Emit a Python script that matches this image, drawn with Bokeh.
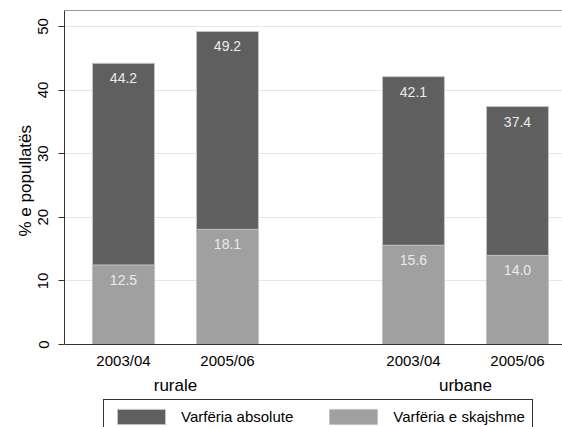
from bokeh.plotting import figure
from bokeh.models import (Range1d, FixedTicker, Legend, LegendItem,
                          Span, ColumnDataSource, Title)
from bokeh.embed import file_html
from bokeh.resources import INLINE
from bokeh.core.properties import value

# ---- data ----
groups = ["rurale", "urbane"]
periods = ["2003/04", "2005/06"]
absolute = [44.2, 49.2, 42.1, 37.4]   # Varfëria absolute
extreme = [12.5, 18.1, 15.6, 14.0]    # Varfëria e skajshme
y_ticks = [0, 10, 20, 30, 40, 50]
legend_labels = ["Varfëria absolute", "Varfëria e skajshme"]
y_title = "% e popullatës"

# ---- layout parameters ----
GROUP_STEP = 2.788
BAR_W = 0.596
FONT = "Liberation Sans"
DARK = "#5f5f5f"
LIGHT = "#a0a0a0"
AXIS = "#333333"
Y_MAX = 52.5
PLOT_H = 334          # px of the bar area
BELOW_H = 83          # px below the bar area (labels + legend)
Y_MIN = -Y_MAX * BELOW_H / PLOT_H

xs = [g * GROUP_STEP + k for g in range(len(groups)) for k in range(len(periods))]
group_centers = [g * GROUP_STEP + (len(periods) - 1) / 2 for g in range(len(groups))]
tick_labels = [per for _ in groups for per in periods]

src = ColumnDataSource(dict(
    x=xs, absolute=absolute, extreme=extreme,
    base=[0] * len(xs), period=tick_labels,
    abs_lbl=[f"{v:.1f}" for v in absolute],
    ext_lbl=[f"{v:.1f}" for v in extreme],
))
gsrc = ColumnDataSource(dict(x=group_centers, base=[0] * len(groups), group=groups))

p = figure(frame_width=498, frame_height=PLOT_H + BELOW_H,
           output_backend="svg", toolbar_location=None,
           x_range=Range1d(-0.567, 4.221), y_range=Range1d(Y_MIN, Y_MAX),
           x_axis_location=None, y_axis_location="left",
           min_border_left=64, min_border_right=0, min_border_top=10,
           min_border_bottom=0)
p.outline_line_color = None
p.background_fill_color = "white"
p.border_fill_color = "white"

# y axis (drawn only over the bar area)
yax = p.yaxis[0]
yax.bounds = (0, Y_MAX)
yax.ticker = FixedTicker(ticks=y_ticks)
yax.minor_tick_line_color = None
yax.major_tick_in = 0
yax.major_tick_out = 6
yax.axis_line_color = AXIS
yax.major_tick_line_color = AXIS
yax.major_label_orientation = "vertical"
yax.major_label_standoff = 10
yax.major_label_text_font = FONT
yax.major_label_text_font_size = "15px"
yax.major_label_text_color = "black"

# y title, placed over the bar area (starts 191 px above the frame bottom)
p.add_layout(Title(text=y_title, align="left", offset=191, standoff=0,
                   vertical_align="middle", text_font=FONT,
                   text_font_size="17px", text_font_style="normal",
                   text_color="black"), "left")

p.ygrid.ticker = FixedTicker(ticks=[t for t in y_ticks if t > 0])
p.ygrid.grid_line_color = "#e6e6e6"
p.ygrid.grid_line_width = 1
p.xgrid.visible = False

# top frame line and x axis line
p.add_layout(Span(location=Y_MAX, dimension="width", line_color=AXIS, line_width=1))
p.add_layout(Span(location=0, dimension="width", line_color=AXIS, line_width=1.2))

# bars (overlapping, not stacked)
r_abs = p.vbar(x="x", top="absolute", bottom=0, width=BAR_W, source=src,
               fill_color=DARK, line_color="#c4c4c4", line_width=1)
r_ext = p.vbar(x="x", top="extreme", bottom=0, width=BAR_W, source=src,
               fill_color=LIGHT, line_color="#c4c4c4", line_width=1)

for col, lbl in (("absolute", "abs_lbl"), ("extreme", "ext_lbl")):
    p.text(x="x", y=col, text=lbl, source=src, y_offset=15,
           text_align="center", text_baseline="middle",
           text_color="#ebebeb", text_font=value(FONT), text_font_size="14px")

# category labels under the axis
p.text(x="x", y="base", text="period", source=src, y_offset=16,
       text_align="center", text_baseline="middle", text_color="black",
       text_font=value(FONT), text_font_size="15px")
p.text(x="x", y="base", text="group", source=gsrc, y_offset=41,
       text_align="center", text_baseline="middle", text_color="black",
       text_font=value(FONT), text_font_size="17px")

legend = Legend(items=[LegendItem(label=legend_labels[0], renderers=[r_abs]),
                       LegendItem(label=legend_labels[1], renderers=[r_ext])],
                orientation="horizontal", location=(39, -7), margin=0,
                padding=7, spacing=30, glyph_width=60, glyph_height=19,
                label_height=19, label_standoff=10,
                label_text_font=FONT, label_text_font_size="15px",
                label_text_color="black",
                border_line_color=AXIS, border_line_width=1,
                border_line_alpha=1, background_fill_alpha=1)
p.add_layout(legend, "center")

open("out.html", "w").write(file_html(p, INLINE))
